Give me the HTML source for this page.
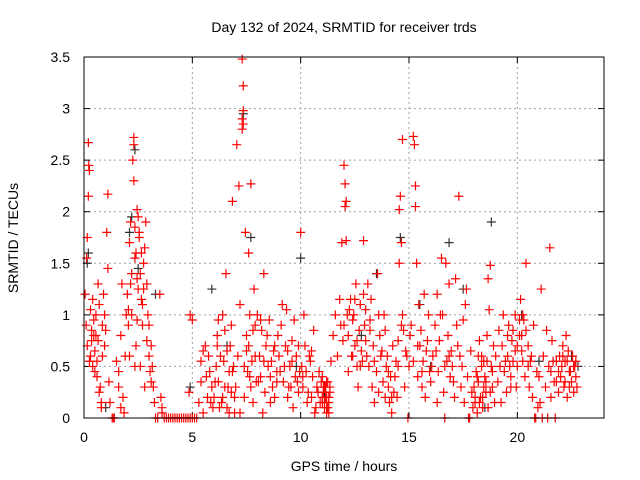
<!DOCTYPE html>
<html><head><meta charset="utf-8"><style>
body{margin:0;background:#fff}
svg{display:block;font-family:"Liberation Sans",sans-serif}
</style></head><body>
<svg id="chart" width="640" height="480" xmlns="http://www.w3.org/2000/svg">
<rect width="640" height="480" fill="#fff"/>
<text x="344" y="32" font-size="14" text-anchor="middle">Day 132 of 2024, SRMTID for receiver trds</text>
<text x="344" y="471" font-size="14" text-anchor="middle">GPS time / hours</text>
<text transform="translate(18,238) rotate(-90)" font-size="14" text-anchor="middle">SRMTID / TECUs</text>
<g id="grid"></g>
<g id="axes"></g>
<g id="black"></g>
<g id="red"></g>
<rect x="84" y="57" width="520" height="361" fill="none" stroke="#000" stroke-width="1"/>
</svg>
<script>
const xTicks=[0,5,10,15,20];
const yTicks=[0,0.5,1,1.5,2,2.5,3,3.5];
const yTickLabels=["0","0.5","1","1.5","2","2.5","3","3.5"];
const redT=[0.05,0.1,0.15,0.2,0.22,0.25,0.2,0.15,0.12,0.3,0.35,0.4,0.45,0.5,0.55,0.6,0.65,0.7,0.75,0.8,0.85,0.9,0.95,0.3,0.45,0.6,0.7,0.8,1.0,1.05,1.1,1.1,1.15,
1.2,1.3,1.35,1.4,1.5,1.6,1.7,1.75,1.8,1.85,1.9,1.95,1.6,1.7,
2.0,2.05,2.1,2.15,2.2,2.25,2.3,2.3,2.3,2.35,2.4,2.45,2.5,2.55,2.6,2.65,2.7,2.75,2.8,2.85,2.9,2.95,2.2,2.4,2.6,2.8,2.1,2.5,2.7,2.9,
3.0,3.05,3.1,3.15,3.2,3.25,3.3,3.4,3.5,3.55,3.6,3.7,3.8,3.9,3.6,3.0,3.1,
4.0,4.1,4.2,4.3,4.4,4.5,4.6,4.7,4.8,4.9,5.0,4.85,4.9,5.0,5.1,
5.2,5.3,5.4,5.5,5.6,5.7,5.8,5.9,5.95,5.5,5.4,
6.0,6.1,6.15,6.2,6.3,6.35,6.4,6.5,6.55,6.6,6.7,6.75,6.8,6.85,6.9,6.95,6.2,6.4,6.6,6.8,
7.0,7.05,7.1,7.15,7.2,7.3,7.35,7.35,7.3,7.35,7.3,7.4,7.45,7.5,7.55,7.6,7.65,7.7,7.75,7.8,7.85,7.9,7.95,7.2,7.6,7.7,7.4,
8.0,8.1,8.15,8.2,8.3,8.35,8.4,8.5,8.55,8.6,8.7,8.75,8.8,8.9,8.95,8.25,8.65,
9.0,9.1,9.15,9.2,9.3,9.35,9.4,9.5,9.55,9.6,9.7,9.75,9.8,9.9,9.95,9.4,9.65,
10.0,10.05,10.1,10.2,10.25,10.3,10.4,10.5,10.55,10.6,10.7,10.75,10.8,10.9,10.95,10.15,10.45,10.65,
11.0,11.05,11.1,11.15,11.2,11.25,11.3,11.35,11.4,11.5,11.6,11.7,11.8,11.85,11.9,11.95,11.0,11.2,
12.0,12.05,12.1,12.05,12.1,12.15,12.2,12.3,12.35,12.4,12.5,12.55,12.6,12.7,12.75,12.8,12.9,12.95,12.2,12.45,12.65,12.85,
13.0,13.1,13.15,13.2,13.3,13.35,13.4,13.5,13.55,13.6,13.7,13.8,13.85,13.9,13.95,13.25,13.65,
14.0,14.05,14.1,14.15,14.2,14.3,14.4,14.5,14.55,14.6,14.55,14.65,14.7,14.7,14.75,14.8,14.9,14.95,14.25,14.45,
15.0,15.1,15.2,15.25,15.3,15.3,15.35,15.4,15.45,15.5,15.6,15.65,15.7,15.75,15.8,15.9,15.95,15.55,
16.0,16.1,16.2,16.3,16.35,16.4,16.5,16.55,16.6,16.65,16.7,16.75,16.8,16.85,16.9,16.95,16.3,
17.0,17.1,17.15,17.2,17.3,17.35,17.4,17.5,17.55,17.6,17.7,17.75,17.8,17.85,17.9,17.95,17.65,
18.0,18.05,18.1,18.15,18.2,18.3,18.35,18.4,18.5,18.55,18.6,18.65,18.7,18.75,18.8,18.85,18.9,18.95,18.45,18.25,
19.0,19.1,19.15,19.2,19.3,19.35,19.4,19.5,19.55,19.6,19.7,19.75,19.8,19.9,19.95,19.25,
20.0,20.1,20.15,20.2,20.3,20.35,20.4,20.5,20.55,20.6,20.7,20.75,20.8,20.85,20.9,20.95,20.25,
21.0,21.05,21.1,21.15,21.2,21.3,21.4,21.45,21.5,21.55,21.6,21.7,21.75,21.8,21.9,21.95,21.35,
22.0,22.1,22.15,22.2,22.3,22.35,22.4,22.5,22.55,22.6,22.65,22.7,22.75,22.25];
const redV=[1.2,0.9,0.7,2.67,2.45,2.4,2.15,1.75,1.55,0.6,0.75,0.5,0.8,0.65,1.0,0.4,1.3,1.1,0.3,0.15,0.9,1.2,0.7,1.05,0.95,0.55,0.25,0.1,0.85,1.8,1.45,2.17,0.35,
0.15,0,0,0,0.55,0.3,0.8,1.3,0.2,0.05,0.6,1.0,0.45,0.1,
1.2,0.9,1.7,1.9,1.4,2.5,2.65,2.72,2.3,1.85,1.6,2.02,1.95,1.75,1.4,1.15,0.9,1.5,1.65,1.9,1.3,1.0,1.0,0.7,0.5,0.3,0.6,1.25,1.1,0.75,
0.6,0.45,0.35,0.5,0.3,0.15,0,0,1.2,0.2,0.1,0,0,0,0.05,0.9,0.7,
0,0,0,0,0,0,0,0,0,0,0,0.25,1.0,0.95,0,
0,0.15,0.35,0.05,0.7,0.2,0.45,0.3,0.1,0.65,0.55,
0.2,0.5,0.8,0.35,0.6,0.15,1.0,0.3,1.4,0.1,0.45,0.7,0.25,2.1,0.5,0.05,0.95,0.2,0.65,0.9,
0.3,2.65,0.6,2.25,1.1,3.48,3.22,2.98,2.9,2.85,2.8,0.2,1.8,0.8,0.45,1.6,1.0,2.27,0.55,0.15,1.25,0.9,0.35,0.05,0.7,0.3,0.5,
1.0,0.6,0.4,0.85,1.4,0.25,0.7,0.5,0.95,0.15,0.3,0.65,0.2,0.45,0.8,0.05,0.55,
0.6,0.9,1.1,0.35,0.7,1.05,0.2,0.5,0.3,0.75,0.95,0.4,0.6,0.25,0.45,0.65,0.1,
1.8,0.5,0.3,0.7,0.45,0.15,0.6,0.2,0.4,0.85,0.1,0.3,0.25,0.15,0.35,1.0,0.55,0.05,
0.2,0.3,0.15,0.25,0.35,0.1,0.2,0.3,0.55,0.8,1.0,0.6,1.15,0.9,1.7,0.75,0.4,0.05,
2.45,2.27,2.1,2.05,1.72,1.0,0.8,1.15,0.6,0.95,0.7,1.3,0.5,0.85,1.1,0.65,1.72,0.9,0.45,1.0,0.3,0.55,
0.75,1.3,0.5,0.95,0.3,0.7,0.15,0.45,1.4,0.25,0.6,0.35,1.0,0.2,0.5,1.15,0.8,
0.6,0.3,0.15,0.4,0.05,0.25,0.55,0.75,1.5,2.15,2.02,1.7,1.0,2.7,0.85,0.3,0.6,0,0.7,0.2,
0.5,0.9,2.73,2.65,2.25,2.05,1.5,0.4,1.1,0.7,0.3,0.55,1.2,0.2,0.65,1.0,0.45,0.85,
0.35,0.6,0.9,1.2,0.45,0.75,1.55,1.0,0.25,0,1.5,0.55,0.8,1.3,0.4,0.65,0.15,
0.5,0.2,1.35,0.9,2.15,0.6,0.3,0.95,0.15,1.1,0.4,0,0,0.65,0.25,0.1,1.25,
0.3,0.15,0.45,0.05,0.35,0.2,0.6,0.1,0.4,0.25,0.8,1.35,1.05,1.48,0.5,0.3,0.7,0.15,0.55,0.75,
0.6,0.35,0.85,0.5,0.7,1.0,0.45,0.25,0.6,0.9,0.4,0.75,0.55,1.0,0.3,0.15,
0.5,0.8,1.15,0.65,0.95,0.4,1.5,0.7,0.3,0.55,0.2,0.9,0,0,0.45,0.1,1.0,
0.4,0.15,1.25,0,0.6,0.3,0,0.5,1.65,0.2,0.75,0.35,0,0.55,0.25,0.6,0.85,
0.4,0.7,0.3,0.55,0.2,0.65,0.45,0.35,0.6,0.25,0.5,0.4,0.3,0.8];
const extraT=[0.25,0.35,0.5,0.65,0.85,0.95,0.4,0.55,2.05,2.15,2.35,2.45,2.55,2.65,2.75,2.45,2.35,
5.65,5.75,5.85,6.05,6.25,6.45,6.65,6.85,6.95,6.15,6.5,6.7,
7.5,7.65,7.8,7.9,8.05,8.15,8.3,8.45,8.6,8.8,8.9,9.05,9.25,9.45,9.6,9.85,9.9,
10.1,10.35,10.5,10.85,11.0,11.05,11.1,11.15,11.2,11.25,11.3,11.35,11.1,11.2,11.3,11.15,
12.0,12.25,12.4,12.6,12.75,12.9,13.05,13.2,13.4,13.6,13.75,13.9,12.5,13.0,
14.05,14.2,14.35,14.5,14.65,14.85,15.05,15.2,15.4,15.6,15.85,16.05,16.25,16.45,16.65,16.85,
17.05,17.25,17.45,
18.05,18.15,18.25,18.35,18.45,18.55,18.65,18.75,18.85,18.6,18.4,18.2,
19.45,19.55,19.65,19.8,19.9,20.0,20.1,20.25,20.4,20.5,20.65,19.7,20.2,
21.55,21.65,21.8,21.9,22.05,22.2,22.3,22.45,22.6,22.7,22.1,22.4];
const extraV=[0.55,0.85,0.45,0.75,0.6,1.0,1.15,0.8,1.05,1.3,1.55,1.35,1.8,1.6,1.25,0.95,0.5,
0.4,0.6,0.15,0.35,0.1,0.55,0.3,0.45,0.2,0.7,0.85,0.05,
0.65,0.4,0.85,0.6,0.35,0.95,0.55,0.8,0.4,0.7,0.35,0.45,0.5,0.3,0.55,0.35,0.7,
0.4,0.25,0.65,0.45,0.15,0.25,0.3,0.2,0.1,0.35,0.15,0.25,0.1,0.2,0.05,0.3,
0.9,1.05,0.6,0.75,0.5,1.2,0.6,0.85,0.55,1.0,0.65,0.85,1.15,1.05,
0.45,0.2,0.4,0.5,0.9,0.65,0.8,0.55,0.7,0.45,0.75,0.5,0.65,1.0,0.5,0.6,
0.35,0.7,0.5,
0.2,0.4,0.15,0.5,0.3,0.35,0.1,0.25,0.45,0.55,0.2,0.6,
0.55,0.8,0.5,0.85,0.65,0.7,0.95,0.55,0.85,0.5,0.6,0.3,0.8,
0.45,0.55,0.35,0.45,0.5,0.35,0.55,0.45,0.5,0.55,0.6,0.3];
const blackT=[0.2,0.15,1.0,2.1,2.2,2.35,2.5,3.3,5.9,6.6,7.35,7.7,9.8,10.0,11.1,13.5,14.6,15.5,16.0,16.85,17.5,18.5,18.8,20.2,21.0,22.5,22.8,12.8,4.9];
const blackV=[1.6,1.5,0.1,1.8,1.95,2.6,1.45,1.2,1.25,0.7,2.95,1.75,0.5,1.55,0.2,1.4,1.75,1.1,0.5,1.7,1.25,0.1,1.9,1.0,0.55,0.6,0.5,0.8,0.3];

const NS="http://www.w3.org/2000/svg";
const X0=84,X1=604,Y0=418,Y1=57;
function xs(t){return X0+(t/24)*(X1-X0);}
function ys(v){return Y0-(v/3.5)*(Y0-Y1);}
function mk(tag,attrs,parent){const e=document.createElementNS(NS,tag);for(const k in attrs)e.setAttribute(k,attrs[k]);parent.appendChild(e);return e;}
const grid=document.getElementById('grid'),axes=document.getElementById('axes');
xTicks.forEach(t=>{
  const x=xs(t);
  if(t>0){const g=mk('line',{x1:x,x2:x,y1:Y1,y2:Y0,stroke:'#a0a0a0','stroke-dasharray':'2,3'},grid);
  
  }
  mk('line',{x1:x,x2:x,y1:Y0,y2:Y0-6,stroke:'#000'},axes);
  mk('line',{x1:x,x2:x,y1:Y1,y2:Y1+6,stroke:'#000'},axes);
  const l=mk('text',{x:x,y:Y0+24,'font-size':14,'text-anchor':'middle'},axes);
  l.textContent=String(t);
  
  
});
yTicks.forEach((v,i)=>{
  const y=ys(v);
  if(v>0&&v<3.5){const g=mk('line',{x1:X0,x2:X1,y1:y,y2:y,stroke:'#a0a0a0','stroke-dasharray':'2,3'},grid);
  
  }
  mk('line',{x1:X0,x2:X0+6,y1:y,y2:y,stroke:'#000'},axes);
  mk('line',{x1:X1,x2:X1-6,y1:y,y2:y,stroke:'#000'},axes);
  const l=mk('text',{x:X0-14,y:y+5,'font-size':14,'text-anchor':'end'},axes);
  l.textContent=yTickLabels[i];
  
  
});
function plot(T,V,color,gid,name){
  const g=document.getElementById(gid);
  for(let i=0;i<T.length;i++){
    const x=xs(T[i]),y=ys(V[i]);
    const p=mk('path',{d:`M${x-4.5},${y}H${x+4.5}M${x},${y-4.5}V${y+4.5}`,stroke:color,'stroke-width':1.2,fill:'none'},g);
    
    
  }
}
plot(blackT,blackV,'#333','black','black-point');
plot(redT,redV,'#ff0000','red','red-point');
plot(extraT,extraV,'#ff0000','red','red-point');
</script>
</body></html>
